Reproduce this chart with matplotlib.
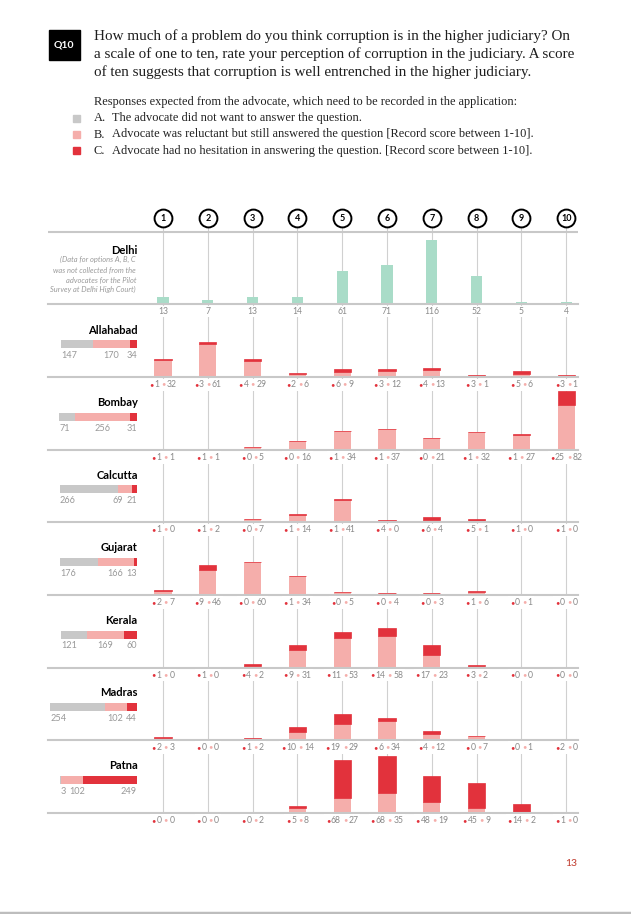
import matplotlib
matplotlib.use('Agg')
import matplotlib.pyplot as plt
from matplotlib.patches import Rectangle
from matplotlib.offsetbox import TextArea, HPacker, AnnotationBbox

# data
scores = [1, 2, 3, 4, 5, 6, 7, 8, 9, 10]
delhi = [13, 7, 13, 14, 61, 71, 116, 52, 5, 4]

courts = ['Allahabad', 'Bombay', 'Calcutta', 'Gujarat', 'Kerala', 'Madras', 'Patna']
tot_a = [147, 71, 266, 176, 121, 254, 3]
tot_b = [170, 256, 69, 166, 169, 102, 102]
tot_c = [34, 31, 21, 13, 60, 44, 249]

# per score: C (no hesitation) and B (reluctant)
c_vals = {
    'Allahabad': [1, 3, 4, 2, 6, 3, 4, 3, 5, 3],
    'Bombay':    [1, 1, 0, 0, 1, 1, 0, 1, 1, 25],
    'Calcutta':  [1, 1, 0, 1, 1, 4, 6, 5, 1, 1],
    'Gujarat':   [2, 9, 0, 1, 0, 0, 0, 1, 0, 0],
    'Kerala':    [1, 1, 4, 9, 11, 14, 17, 3, 0, 0],
    'Madras':    [2, 0, 1, 10, 19, 6, 4, 0, 0, 2],
    'Patna':     [0, 0, 0, 5, 68, 68, 48, 45, 14, 1],
}
b_vals = {
    'Allahabad': [32, 61, 29, 6, 9, 12, 13, 1, 6, 1],
    'Bombay':    [1, 1, 5, 16, 34, 37, 21, 32, 27, 82],
    'Calcutta':  [0, 2, 7, 14, 41, 0, 4, 1, 0, 0],
    'Gujarat':   [7, 46, 60, 34, 5, 4, 3, 6, 1, 0],
    'Kerala':    [0, 0, 2, 31, 53, 58, 23, 2, 0, 0],
    'Madras':    [3, 0, 2, 14, 29, 34, 12, 7, 1, 0],
    'Patna':     [0, 0, 2, 8, 27, 35, 19, 9, 2, 0],
}

title = ["How much of a problem do you think corruption is in the higher judiciary? On",
         "a scale of one to ten, rate your perception of corruption in the judiciary. A score",
         "of ten suggests that corruption is well entrenched in the higher judiciary."]
subtitle = "Responses expected from the advocate, which need to be recorded in the application:"
legend_items = [("A.", "The advocate did not want to answer the question."),
                ("B.", "Advocate was reluctant but still answered the question [Record score between 1-10]."),
                ("C.", "Advocate had no hesitation in answering the question. [Record score between 1-10].")]
delhi_note = ["(Data for options A, B, C", "was not collected from the",
              "advocates for the Pilot", "Survey at Delhi High Court)"]

GRAY = '#c8c8c8'
PINK = '#f5aeab'
RED = '#e2323c'
MINT = '#a9dcc8'
TXT = '#8a8a8a'
SANS = ['Lato', 'DejaVu Sans']
SERIF = ['Liberation Serif', 'DejaVu Serif']

W, H = 631, 914
fig = plt.figure(figsize=(W / 100, H / 100), dpi=100)
fig.patch.set_facecolor('white')


def px_axes(x0, y0, w, h, z):
    # rectangle in pixels from the top-left corner
    a = fig.add_axes([x0 / W, 1 - (y0 + h) / H, w / W, h / H])
    a.set_zorder(z)
    a.patch.set_visible(False)
    return a


left_px, right_px = 48.5, 578
x1_px, dx_px = 163, 44.8
klim = (1 + (left_px - x1_px) / dx_px, 1 + (right_px - x1_px) / dx_px)
unit = 0.552          # px per respondent
sunit = 0.2165        # px per advocate in the summary bars
delhi_base = 304.3
base0, step = 377.3, 72.57

# background: column lines, circles, top rule
bg = px_axes(left_px, 200, right_px - left_px, 630, 0)
bg.set_xlim(*klim)
bg.set_ylim(830, 200)
bg.axis('off')
bg.vlines(scores, 226, base0 + step * 6, color='#d0d0d0', lw=0.8)
bg.hlines(232, klim[0], klim[1], color=GRAY, lw=1.5)
bg.scatter(scores, [218] * 10, s=165, facecolor='white', edgecolor='black', lw=1.4, zorder=3)
for k in scores:
    bg.text(k, 218.5, str(k), ha='center', va='center', fontsize=6.5, fontweight='bold',
            family=SANS, zorder=4)


def row_axes(base, top):
    a = px_axes(left_px, top, right_px - left_px, base - top, 2)
    a.set_xlim(*klim)
    a.set_ylim(0, (base - top) / unit)
    for s in ['top', 'left', 'right']:
        a.spines[s].set_visible(False)
    a.spines['bottom'].set_color(GRAY)
    a.spines['bottom'].set_linewidth(1.5)
    a.set_xticks([])
    a.set_yticks([])
    return a


# Delhi row
ax = row_axes(delhi_base, 234)
ax.bar(scores, delhi, width=0.25, color=MINT)
for k, v in zip(scores, delhi):
    ax.annotate(str(v), (k, 0), xytext=(0, -5.2), textcoords='offset points', ha='center',
                va='center', fontsize=6.2, color=TXT, family=SANS,
                bbox=dict(boxstyle='square,pad=0.1', fc='white', ec='none'))

# court rows
for i, court in enumerate(courts):
    base = base0 + step * i
    ax = row_axes(base, base - 70)
    cv, bv = c_vals[court], b_vals[court]
    ax.bar(scores, bv, width=0.38, color=PINK)
    ax.bar(scores, cv, width=0.38, bottom=bv, color=RED, edgecolor=RED, lw=0.5)
    for k, c, b in zip(scores, cv, bv):
        parts = [TextArea('•', textprops=dict(color=RED, fontsize=5.5, family=SANS)),
                 TextArea(str(c), textprops=dict(color=TXT, fontsize=6.2, family=SANS)),
                 TextArea(' •', textprops=dict(color=PINK, fontsize=5.5, family=SANS)),
                 TextArea(str(b), textprops=dict(color=TXT, fontsize=6.2, family=SANS))]
        box = HPacker(children=parts, align='center', pad=0, sep=0.5)
        ab = AnnotationBbox(box, (k, 0), xybox=(0, -5.4), xycoords='data',
                            boxcoords='offset points', frameon=True, pad=0.12,
                            bboxprops=dict(fc='white', ec='none'), annotation_clip=False)
        ax.add_artist(ab)

    # left summary bar
    sx = px_axes(37, base - 37, 100, 8, 3)
    sx.set_xlim(-100 / sunit, 0)
    sx.set_ylim(-0.5, 0.5)
    sx.axis('off')
    a, b, c = tot_a[i], tot_b[i], tot_c[i]
    start = -(a + b + c)
    sx.barh(0, a, left=start, height=1, color=GRAY)
    sx.barh(0, b, left=start + a, height=1, color=PINK)
    sx.barh(0, c, left=start + a + b, height=1, color=RED)
    kw = dict(textcoords='offset points', va='center', fontsize=6.6, color='#999999',
              family=SANS)
    sx.annotate(str(a), (start, 0), xytext=(0, -8.2), ha='left', **kw)
    sx.annotate(str(c), (0, 0), xytext=(0, -8.2), ha='right', **kw)
    # keep the B count clear of its neighbours
    dig = 5.0 / sunit
    gap = 4.0 / sunit
    half = len(str(b)) * dig / 2
    bx = start + a + b / 2
    bx = min(bx, -len(str(c)) * dig - gap - half)
    bx = max(bx, start + len(str(a)) * dig + gap + half)
    sx.annotate(str(b), (bx, 0), xytext=(0, -8.2), ha='center', **kw)
    sx.annotate(court, (0, 0), xytext=(0.5, 10.2), ha='right', fontsize=8,
                fontweight='bold', textcoords='offset points', va='center', family=SANS)

# text overlay
tx = px_axes(0, 0, W, H, 5)
tx.set_xlim(0, W)
tx.set_ylim(H, 0)
tx.axis('off')
tx.add_patch(Rectangle((48.5, 30), 31.5, 30, color='black'))
tx.text(64.2, 45, 'Q10', color='white', fontsize=7.5, fontweight='bold', ha='center',
        va='center', family=SANS)
for j, line in enumerate(title):
    tx.text(93.5, 36 + 18 * j, line, fontsize=10.9, family=SERIF, va='center', ha='left',
            color='#1e1e1e')
tx.text(93.5, 102, subtitle, fontsize=8.9, family=SERIF, va='center', color='#222222')
for j, (lab, txt) in enumerate(legend_items):
    y = 118.3 + 16.2 * j
    tx.add_patch(Rectangle((73, y - 3.5), 7, 7, color=[GRAY, PINK, RED][j]))
    tx.text(93.5, y, lab, fontsize=8.9, family=SERIF, va='center', color='#222222')
    tx.text(112, y, txt, fontsize=8.9, family=SERIF, va='center', color='#222222')

tx.text(137, 250, 'Delhi', fontsize=8, fontweight='bold', ha='right', va='center',
        family=SANS)
for j, line in enumerate(delhi_note):
    tx.text(136, 259.5 + 10 * j, line, fontsize=5.4, style='italic', ha='right', va='center',
            color='#9a9a9a', family=SANS)

tx.text(571.5, 863, '13', fontsize=7.5, color='#c0392b', ha='center', va='center',
        family=SANS)
tx.plot([0, W], [912.5, 912.5], color='#bdbdbd', lw=2.5)

fig.savefig('out.png', dpi=100, facecolor='white')
